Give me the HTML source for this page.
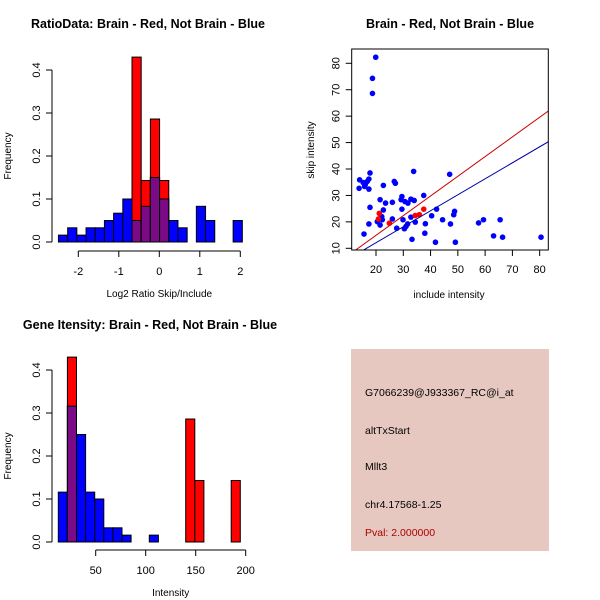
<!DOCTYPE html>
<html><head><meta charset="utf-8">
<style>
html,body{margin:0;padding:0;background:#fff;}
svg{display:block;font-family:"Liberation Sans",Arial,sans-serif;}
</style></head>
<body>
<svg id="chart" width="600" height="600" viewBox="0 0 600 600" xmlns="http://www.w3.org/2000/svg">
<rect width="600" height="600" fill="#fff"/>
</svg>
<script>
// ---- Ratio histogram data ----
const ratioBinStart = -2.49;
const ratioBinWidth = 0.227;
const ratioBlue = [0.016,0.033,0.016,0.033,0.033,0.05,0.067,0.1,0.05,0.083,0.15,0.1,0.05,0.033,0,0.083,0.05,0,0,0.05];
const ratioRed  = [0,0,0,0,0,0,0,0,0.43,0.143,0.286,0.143,0,0,0,0,0,0,0,0];
const ratioXTicks = [-2,-1,0,1,2];
const freqTicks = [0.0,0.1,0.2,0.3,0.4];
// ---- Intensity histogram data ----
const intBinStart = 12.6;
const intBinWidth = 9.1;
const intBlue = [0.116,0.316,0.25,0.116,0.1,0.033,0.033,0.016,0,0,0.016,0,0,0,0,0,0,0,0,0];
const intRed  = [0,0.43,0,0,0,0,0,0,0,0,0,0,0,0,0.286,0.143,0,0,0,0.143];
const intXTicks = [50,100,150,200];
// ---- Scatter data ----
const blueX = [19.9,18.7,18.7,13.8,14.0,15.3,16.1,15.8,16.8,17.4,17.8,17.4,17.8,17.4,15.6,22.7,21.5,23.5,26.0,26.7,27.1,22.7,22.1,20.5,21.5,22.3,26.0,27.6,29.2,29.5,29.5,29.9,30.4,31.0,31.6,30.6,31.7,32.8,34.0,33.8,32.8,34.4,33.2,37.5,38.1,37.9,40.4,42.2,41.8,44.4,47.0,47.3,48.5,48.8,49.1,57.6,59.4,63.1,65.5,66.4,80.5];
const blueY = [82.3,74.3,68.6,32.7,35.9,34.9,34.2,33.4,35.3,36.2,38.5,32.4,25.5,19.2,15.4,33.8,28.4,27.1,27.4,35.3,34.6,24.5,22.0,20.1,18.8,20.8,21.1,17.6,28.4,29.6,24.8,20.8,17.4,18.3,19.2,27.7,27.1,28.6,28.1,39.1,21.8,19.9,13.4,30.0,19.3,15.7,22.3,24.8,12.3,20.8,38.0,19.2,22.7,24.0,12.3,19.6,20.8,14.7,20.8,14.2,14.2];
const redX = [21.2,20.9,24.9,34.4,35.9,37.5];
const redY = [23.2,21.1,19.5,22.4,22.7,24.8];
const scatterXTicks = [20,30,40,50,60,70,80];
const scatterYTicks = [10,20,30,40,50,60,70,80];
const redSlope = 0.745, blueSlope = 0.605;

const NS = "http://www.w3.org/2000/svg";
const svg = document.getElementById('chart');
function el(tag, attrs, parent, text){
  const e = document.createElementNS(NS, tag);
  for (const k in attrs) e.setAttribute(k, attrs[k]);
  if (text !== undefined) e.textContent = text;
  (parent||svg).appendChild(e);
  return e;
}
function group(name){
  const g = el('g', {});
  
  
  return g;
}
function txt(parent, x, y, s, opts, name){
  const t = el('text', Object.assign({x:x, y:y, 'font-size':11, fill:'#000', 'text-anchor':'middle'}, opts||{}), parent, s);
  
  
  return t;
}

function histogram(cfg){
  const g = group(cfg.name);
  const sx = v => cfg.x0 + (v - cfg.xv0) * cfg.kx;
  const sy = v => cfg.y0 - v * cfg.ky;
  const n = cfg.blue.length;
  for (let i=0;i<n;i++){
    const a = sx(cfg.binStart + i*cfg.binWidth), b = sx(cfg.binStart + (i+1)*cfg.binWidth);
    const bv = cfg.blue[i], rv = cfg.red[i];
    if (bv > 0){
      const r = el('rect', {x:a, y:sy(bv), width:b-a, height:sy(0)-sy(bv), fill:'#0000ff', stroke:'#000', 'stroke-width':1}, g);
      
      
    }
    if (rv > 0){
      const r = el('rect', {x:a, y:sy(rv), width:b-a, height:sy(0)-sy(rv), fill:'#ff0000', stroke:'#000', 'stroke-width':1}, g);
      
      
    }
    const m = Math.min(bv, rv);
    if (m > 0){
      const r = el('rect', {x:a, y:sy(m), width:b-a, height:sy(0)-sy(m), fill:'#7a0a86', stroke:'#000', 'stroke-width':1}, g);
      
      
    }
  }
  const ya = group('y-axis'); g.appendChild(ya);
  el('line', {x1:cfg.yAxisX, x2:cfg.yAxisX, y1:sy(freqTicks[0]), y2:sy(freqTicks[freqTicks.length-1]), stroke:'#000'}, ya);
  freqTicks.forEach(v=>{
    el('line', {x1:cfg.yAxisX-6, x2:cfg.yAxisX, y1:sy(v), y2:sy(v), stroke:'#000'}, ya);
    txt(ya, 0, 0, v.toFixed(1), {transform:`translate(${cfg.yAxisX-12},${sy(v)}) rotate(-90)`}, 'y-tick-label');
  });
  const xa = group('x-axis'); g.appendChild(xa);
  const t = cfg.xTicks;
  el('line', {x1:sx(t[0]), x2:sx(t[t.length-1]), y1:cfg.xAxisY, y2:cfg.xAxisY, stroke:'#000'}, xa);
  t.forEach(v=>{
    el('line', {x1:sx(v), x2:sx(v), y1:cfg.xAxisY, y2:cfg.xAxisY+6, stroke:'#000'}, xa);
    txt(xa, sx(v), cfg.xAxisY+24, String(v), {}, 'x-tick-label');
  });
  txt(g, cfg.titleX, cfg.titleY, cfg.title, {'font-weight':'bold','font-size':12.5}, 'plot-title');
  txt(g, sx((t[0]+t[t.length-1])/2), cfg.xAxisY+46, cfg.xlabel, {'font-size':10}, 'x-axis-title');
  txt(g, 0, 0, 'Frequency', {'font-size':10, transform:`translate(11,${sy(0.2)}) rotate(-90)`}, 'y-axis-title');
}

histogram({name:'ratio-histogram', blue:ratioBlue, red:ratioRed, binStart:ratioBinStart, binWidth:ratioBinWidth,
  x0:159.3, xv0:0, kx:40.5, y0:242, ky:430, yAxisX:52, xAxisY:251, xTicks:ratioXTicks,
  title:'RatioData: Brain - Red, Not Brain - Blue', titleX:148, titleY:28, xlabel:'Log2 Ratio Skip/Include'});
histogram({name:'intensity-histogram', blue:intBlue, red:intRed, binStart:intBinStart, binWidth:intBinWidth,
  x0:45.7, xv0:0, kx:1.0, y0:542, ky:430, yAxisX:52, xAxisY:550, xTicks:intXTicks,
  title:'Gene Itensity: Brain - Red, Not Brain - Blue', titleX:150, titleY:329, xlabel:'Intensity'});

(function(){
  const g = group('scatter-plot');
  const L=351.7, R=548.3, T=49, B=250;
  const sx = v => 376 + (v-20)*2.728;
  const sy = v => 248.3 - (v-10)*2.643;
  el('clipPath', {id:'clipS'}, g).appendChild((()=>{const r=document.createElementNS(NS,'rect');r.setAttribute('x',L);r.setAttribute('y',T);r.setAttribute('width',R-L);r.setAttribute('height',B-T);return r;})());
  for (let i=0;i<blueX.length;i++){
    const c = el('circle', {cx:sx(blueX[i]), cy:sy(blueY[i]), r:2.8, fill:'#0000ff'}, g);
    
    
  }
  for (let i=0;i<redX.length;i++){
    const c = el('circle', {cx:sx(redX[i]), cy:sy(redY[i]), r:2.8, fill:'#ff0000'}, g);
    
    
  }
  const rl = el('line', {x1:sx(0), y1:sy(0), x2:sx(90), y2:sy(90*redSlope), stroke:'#cc0000', 'stroke-width':1, 'clip-path':'url(#clipS)'}, g);
  
  
  const bl = el('line', {x1:sx(0), y1:sy(0), x2:sx(90), y2:sy(90*blueSlope), stroke:'#0000aa', 'stroke-width':1, 'clip-path':'url(#clipS)'}, g);
  
  
  const box = el('rect', {x:L, y:T, width:R-L, height:B-T, fill:'none', stroke:'#000'}, g);
  
  
  scatterXTicks.forEach(v=>{
    el('line', {x1:sx(v), x2:sx(v), y1:B, y2:B+6, stroke:'#000'}, g);
    txt(g, sx(v), B+23, String(v), {}, 'x-tick-label');
  });
  scatterYTicks.forEach(v=>{
    el('line', {x1:L-6, x2:L, y1:sy(v), y2:sy(v), stroke:'#000'}, g);
    txt(g, 0, 0, String(v), {transform:`translate(${L-12},${sy(v)}) rotate(-90)`}, 'y-tick-label');
  });
  txt(g, 450, 28, 'Brain - Red, Not Brain - Blue', {'font-weight':'bold','font-size':12.5}, 'plot-title');
  txt(g, 449, 298, 'include intensity', {'font-size':10}, 'x-axis-title');
  txt(g, 0, 0, 'skip intensity', {'font-size':10, transform:`translate(314,150) rotate(-90)`}, 'y-axis-title');
})();

(function(){
  const g = group('info-panel');
  el('rect', {x:351, y:349, width:198, height:202, fill:'#e6c8c0'}, g);
  const lines = [['G7066239@J933367_RC@i_at',396,'#000','probe-id'],['altTxStart',434,'#000','event-type'],['Mllt3',470,'#000','gene-name'],['chr4.17568-1.25',508,'#000','location'],['Pval: 2.000000',536,'#aa0000','p-value']];
  lines.forEach(l=> txt(g, 365, l[1], l[0], {'text-anchor':'start','font-size':10.5, fill:l[2]}, l[3]));
})();
</script>
</body></html>
